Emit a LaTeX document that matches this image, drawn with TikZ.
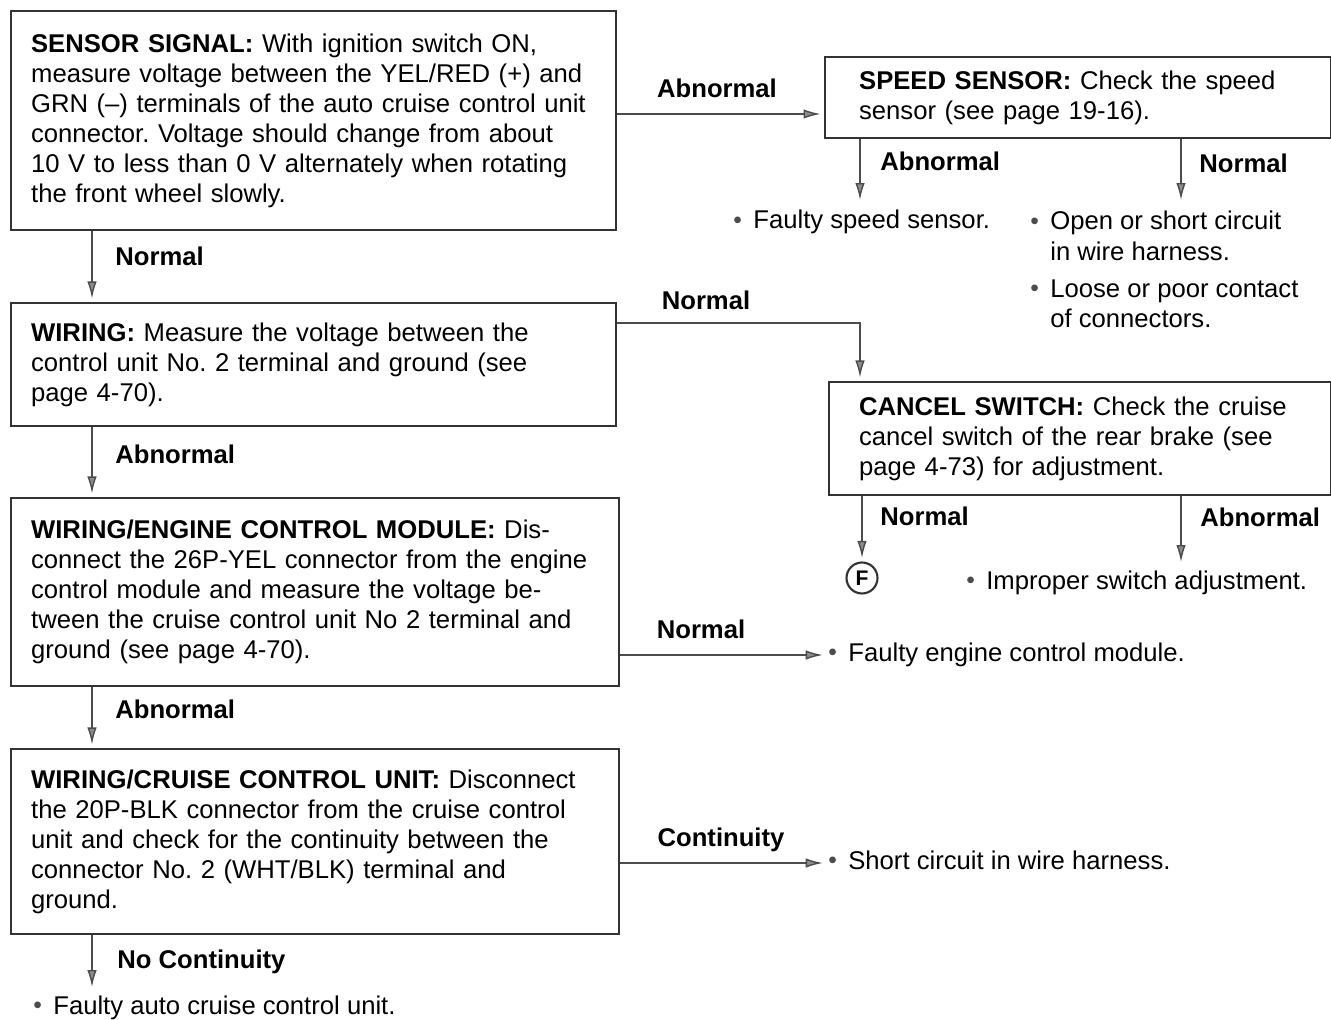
\documentclass[tikz,border=0pt]{standalone}
\usepackage{fontspec}
\setmainfont{Liberation Sans}
\usetikzlibrary{arrows.meta,positioning,calc}
\frenchspacing
\definecolor{frame}{gray}{0.2}
\definecolor{wire}{gray}{0.3}
\definecolor{tipfill}{gray}{0.55}
\newcommand{\bodyfont}{\fontsize{14.6pt}{17.1pt}\selectfont}
\newcommand{\bul}{\makebox[0.4cm][l]{\raisebox{0.4pt}{\color{wire}\fontsize{14pt}{14pt}\selectfont\textbullet}}}
\newcommand{\bitem}[1]{\bul\begin{tabular}[t]{@{}l@{}}#1\end{tabular}}
\tikzset{
  stepbx/.style={draw=frame, line width=1.3pt, anchor=north west, align=left,
                 inner xsep=0.4cm, font=\bodyfont},
  flowarr/.style={-{Latex[length=3.4mm,width=1.9mm,fill=tipfill]}, wire, line width=0.8pt},
  blab/.style={font=\bodyfont\bfseries, anchor=base west, inner sep=0pt},
  itm/.style={font=\bodyfont, anchor=base west, inner sep=0pt},
  endc/.style={circle, draw=frame, line width=1.2pt, minimum size=0.62cm,
               inner sep=0pt, font=\fontsize{12pt}{12pt}\selectfont\bfseries},
}
\begin{document}
\begin{tikzpicture}[x=0.02cm, y=-0.02cm]
  \useasboundingbox (0,0) rectangle (1331,1020);
  % left column
  \node[stepbx, minimum width=12.1cm, minimum height=4.38cm, text width=11.3cm] (sig) at (10,10)
    {\textbf{SENSOR SIGNAL:} With ignition switch ON,\\
     measure voltage between the YEL/RED (+) and\\
     GRN (–) terminals of the auto cruise control unit\\
     connector. Voltage should change from about\\
     10 V to less than 0 V alternately when rotating\\
     the front wheel slowly.};
  \node[stepbx, minimum width=12.1cm, minimum height=2.46cm, text width=11.3cm] (wir) at (10,302)
    {\textbf{WIRING:} Measure the voltage between the\\
     control unit No. 2 terminal and ground (see\\
     page 4-70).};
  \node[stepbx, minimum width=12.16cm, minimum height=3.76cm, text width=11.36cm] (ecm) at (10,497)
    {\textbf{WIRING/ENGINE CONTROL MODULE:} Dis-\\
     connect the 26P-YEL connector from the engine\\
     control module and measure the voltage be-\\
     tween the cruise control unit No 2 terminal and\\
     ground (see page 4-70).};
  \node[stepbx, minimum width=12.16cm, minimum height=3.7cm, text width=11.36cm] (cru) at (10,748)
    {\textbf{WIRING/CRUISE CONTROL UNIT:} Disconnect\\
     the 20P-BLK connector from the cruise control\\
     unit and check for the continuity between the\\
     connector No. 2 (WHT/BLK) terminal and\\
     ground.};
  % right column
  \node[stepbx, inner xsep=0.68cm, minimum width=10.12cm, minimum height=1.62cm, text width=8.76cm] (spd) at (824,56)
    {\textbf{SPEED SENSOR:} Check the speed\\
     sensor (see page 19-16).};
  \node[stepbx, inner xsep=0.6cm, minimum width=10.04cm, minimum height=2.26cm, text width=8.84cm] (cnc) at (828,381)
    {\textbf{CANCEL SWITCH:} Check the cruise\\
     cancel switch of the rear brake (see\\
     page 4-73) for adjustment.};
  \node[endc] (fc) at (862,578) {F};

  \node[itm] (fss) at (733,229) {\bitem{Faulty speed sensor.}};
  \node[itm] (osc) at (1030,230) {\bitem{Open or short circuit\\ in wire harness.}};
  \node[itm] (lpc) at (1030,297) {\bitem{Loose or poor contact\\ of connectors.}};
  \node[itm] (isa) at (966,589) {\bitem{Improper switch adjustment.}};
  \node[itm] (fem) at (828,661) {\bitem{Faulty engine control module.}};
  \node[itm] (scw) at (828,869) {\bitem{Short circuit in wire harness.}};
  \node[itm] (fac) at (33,1014) {\bitem{Faulty auto cruise control unit.}};

  \coordinate (lx) at (92,0);
  \coordinate (ya) at (0,114);
  \coordinate (yb) at (0,323);
  \coordinate (xc) at (860,0);
  \coordinate (s1) at (860,200);
  \coordinate (s2) at (1181,200);
  \coordinate (c2) at (1181,562);
  \coordinate (e4) at (92,987);

  \draw[flowarr, shorten >=2pt] (sig.south -| lx) -- (wir.north -| lx);
  \draw[flowarr, shorten >=2pt] (wir.south -| lx) -- (ecm.north -| lx);
  \draw[flowarr, shorten >=2pt] (ecm.south -| lx) -- (cru.north -| lx);
  \draw[flowarr] (cru.south -| lx) -- (e4);
  \draw[flowarr, shorten >=2pt] (sig.east |- ya) -- (spd.west |- ya);
  \draw[flowarr] (spd.south -| s1) -- (s1);
  \draw[flowarr] (spd.south -| s2) -- (s2);
  \draw[flowarr, shorten >=2pt] (wir.east |- yb) -| (cnc.north -| xc);
  \draw[flowarr, shorten >=2pt] (cnc.south -| fc) -- (fc.north);
  \draw[flowarr] (cnc.south -| c2) -- (c2);
  \draw[flowarr, shorten >=3pt] (ecm.east |- fem.west) -- (fem.west);
  \draw[flowarr, shorten >=3pt] (cru.east |- scw.west) -- (scw.west);

  \node[blab] at (115,266) {Normal};
  \node[blab, anchor=base] at (717,98) {Abnormal};
  \node[blab] at (880,171) {Abnormal};
  \node[blab] at (1199,173) {Normal};
  \node[blab, anchor=base] at (706,310) {Normal};
  \node[blab] at (115,463) {Abnormal};
  \node[blab] at (880,525) {Normal};
  \node[blab] at (1200,526) {Abnormal};
  \node[blab, anchor=base] at (701,638) {Normal};
  \node[blab] at (115,718) {Abnormal};
  \node[blab, anchor=base] at (721,846) {Continuity};
  \node[blab] at (117,968) {No Continuity};
\end{tikzpicture}
\end{document}
